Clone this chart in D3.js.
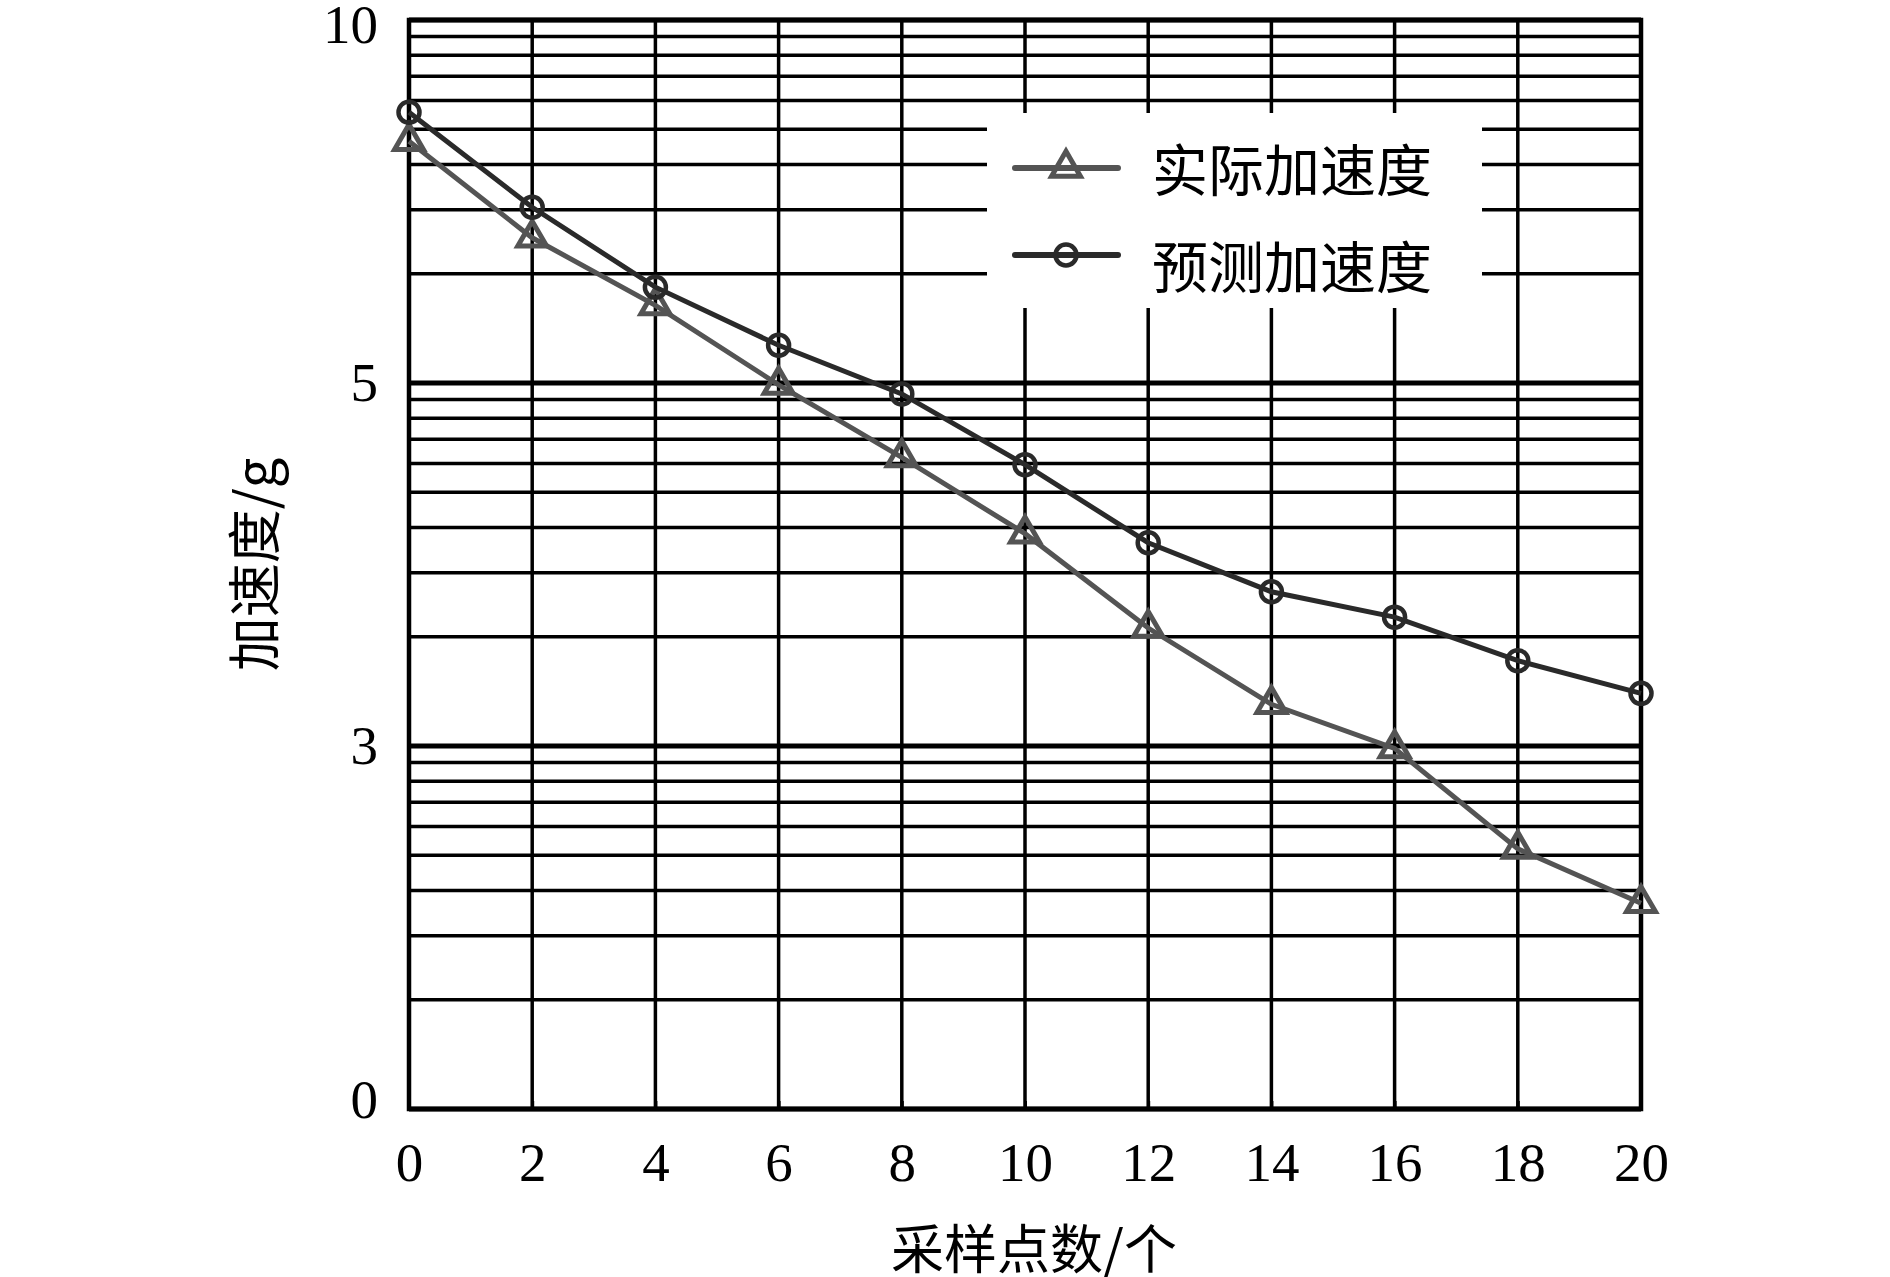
<!DOCTYPE html>
<html>
<head>
<meta charset="utf-8">
<script src="https://cdn.jsdelivr.net/npm/d3@7"></script>
<style>
  html, body { margin: 0; padding: 0; background: #fff; }
  svg { display: block; }
</style>
</head>
<body>
<div id="chart"></div>
<script>
// data
const samplePoints = [0, 2, 4, 6, 8, 10, 12, 14, 16, 18, 20];
const actualAccel = [8.33, 7.00, 6.07, 4.99, 4.59, 4.17, 3.65, 3.23, 2.98, 2.15, 1.70];
const predictedAccel = [8.73, 7.42, 6.32, 5.52, 4.94, 4.55, 4.12, 3.85, 3.71, 3.47, 3.29];
const xTickValues = [0, 2, 4, 6, 8, 10, 12, 14, 16, 18, 20];
const yTickValues = [0, 3, 5, 10];
const yTickLabels = ["0", "3", "5", "10"];
const seriesNames = ["实际加速度", "预测加速度"];

const width = 1890, height = 1277;
const margin = { top: 20, right: 249, bottom: 168, left: 409 };
const innerW = width - margin.left - margin.right;
const innerH = height - margin.top - margin.bottom;

const numFont = "'Liberation Serif', 'Times New Roman', serif";
const cjkFont = "'Noto Sans CJK SC', sans-serif";

const svg = d3.select("#chart").append("svg")
  .attr("width", width)
  .attr("height", height);

const g = svg.append("g").attr("transform", `translate(${margin.left},${margin.top})`);

const x = d3.scaleLinear().domain([0, 20]).range([0, innerW]);
// each labelled step takes an equal third of the axis
const y = d3.scaleLinear()
  .domain(yTickValues)
  .range([innerH, innerH * 2 / 3, innerH / 3, 0]);

// horizontal grid: log-style spacing inside every labelled segment
const minorGrid = [];
for (let i = 0; i < yTickValues.length - 1; i++) {
  const a = yTickValues[i], b = yTickValues[i + 1];
  d3.range(2, 10).forEach(k => minorGrid.push(a + (b - a) * Math.log10(k)));
}

g.append("g").selectAll("line.hgrid")
  .data(minorGrid)
  .join("line")
  .attr("x1", 0).attr("x2", innerW)
  .attr("y1", d => y(d)).attr("y2", d => y(d))
  .attr("stroke", "#000")
  .attr("stroke-width", 3.5);

g.append("g").selectAll("line.hmajor")
  .data(yTickValues)
  .join("line")
  .attr("x1", 0).attr("x2", innerW)
  .attr("y1", d => y(d)).attr("y2", d => y(d))
  .attr("stroke", "#000")
  .attr("stroke-width", 5);

g.append("g").selectAll("line.vgrid")
  .data(xTickValues)
  .join("line")
  .attr("x1", d => x(d)).attr("x2", d => x(d))
  .attr("y1", 0).attr("y2", innerH)
  .attr("stroke", "#000")
  .attr("stroke-width", 3.5);

// frame
g.append("rect")
  .attr("width", innerW).attr("height", innerH)
  .attr("fill", "none")
  .attr("stroke", "#000")
  .attr("stroke-width", 4.5);

// axes (labels only, ticks pointing inward)
const xAxis = d3.axisBottom(x).tickValues(xTickValues).tickSize(-8).tickPadding(33).tickFormat(d3.format("d"));
g.append("g")
  .attr("transform", `translate(0,${innerH})`)
  .call(xAxis)
  .call(s => s.select(".domain").remove())
  .call(s => s.selectAll("line").attr("stroke", "#000").attr("stroke-width", 3))
  .call(s => s.selectAll("text")
    .attr("font-family", numFont).attr("font-size", 55).attr("fill", "#000"));

const yAxis = d3.axisLeft(y).tickValues(yTickValues).tickSize(-8).tickPadding(31)
  .tickFormat((d, i) => yTickLabels[i]);
g.append("g")
  .call(yAxis)
  .call(s => s.select(".domain").remove())
  .call(s => s.selectAll("line").attr("stroke", "#000").attr("stroke-width", 3))
  .call(s => s.selectAll("text")
    .attr("font-family", numFont).attr("font-size", 55).attr("fill", "#000"))
  .call(s => s.selectAll(".tick").filter(d => d === 10).select("text").attr("dy", "0.4em"))
  .call(s => s.selectAll(".tick").filter(d => d === 0).select("text").attr("dy", "0.15em"));

// legend background sits over the grid
const legend = { x: 987, y: 113, w: 495, h: 195 };
svg.append("rect")
  .attr("x", legend.x).attr("y", legend.y)
  .attr("width", legend.w).attr("height", legend.h)
  .attr("fill", "#fff");

const series = [
  { name: seriesNames[0], values: actualAccel, color: "#545454", marker: "triangle" },
  { name: seriesNames[1], values: predictedAccel, color: "#2a2a2a", marker: "circle" }
];

const line = d3.line().x((d, i) => x(samplePoints[i])).y(d => y(d));
const triPath = d3.symbol(d3.symbolTriangle, 360)();

function drawMarker(sel, type, color) {
  if (type === "circle") {
    sel.append("circle")
      .attr("r", 10.5)
      .attr("fill", "none")
      .attr("stroke", color)
      .attr("stroke-width", 4.5);
  } else {
    sel.append("path")
      .attr("d", triPath)
      .attr("fill", "none")
      .attr("stroke", color)
      .attr("stroke-width", 5)
      .attr("stroke-linejoin", "miter");
  }
}

series.forEach(s => {
  g.append("path")
    .datum(s.values)
    .attr("d", line)
    .attr("fill", "none")
    .attr("stroke", s.color)
    .attr("stroke-width", 5);

  g.append("g").selectAll("g")
    .data(s.values)
    .join("g")
    .attr("transform", (d, i) => `translate(${x(samplePoints[i])},${y(d)})`)
    .each(function () { drawMarker(d3.select(this), s.marker, s.color); });
});

// legend entries
const legendRows = [168, 255];
series.forEach((s, i) => {
  const row = svg.append("g").attr("transform", `translate(0,${legendRows[i]})`);
  row.append("line")
    .attr("x1", 1015).attr("x2", 1118)
    .attr("stroke", s.color).attr("stroke-width", 6)
    .attr("stroke-linecap", "round");
  const m = row.append("g").attr("transform", "translate(1066,0)");
  drawMarker(m, s.marker, s.color);
  row.append("text")
    .attr("x", 1152).attr("y", i === 0 ? -2 : 8)
    .attr("dominant-baseline", "central")
    .attr("font-family", cjkFont)
    .attr("font-size", 56)
    .attr("fill", "#000")
    .text(s.name);
});

// axis titles
svg.append("text")
  .attr("x", margin.left + innerW / 2 + 9)
  .attr("y", 1246)
  .attr("text-anchor", "middle")
  .attr("dominant-baseline", "central")
  .attr("font-family", cjkFont)
  .attr("font-size", 53)
  .attr("fill", "#000")
  .text("采样点数/个");

svg.append("text")
  .attr("transform", `translate(251,${margin.top + innerH / 2}) rotate(-90)`)
  .attr("text-anchor", "middle")
  .attr("dominant-baseline", "central")
  .attr("font-family", cjkFont)
  .attr("font-size", 54)
  .attr("fill", "#000")
  .text("加速度/g");
</script>
</body>
</html>
